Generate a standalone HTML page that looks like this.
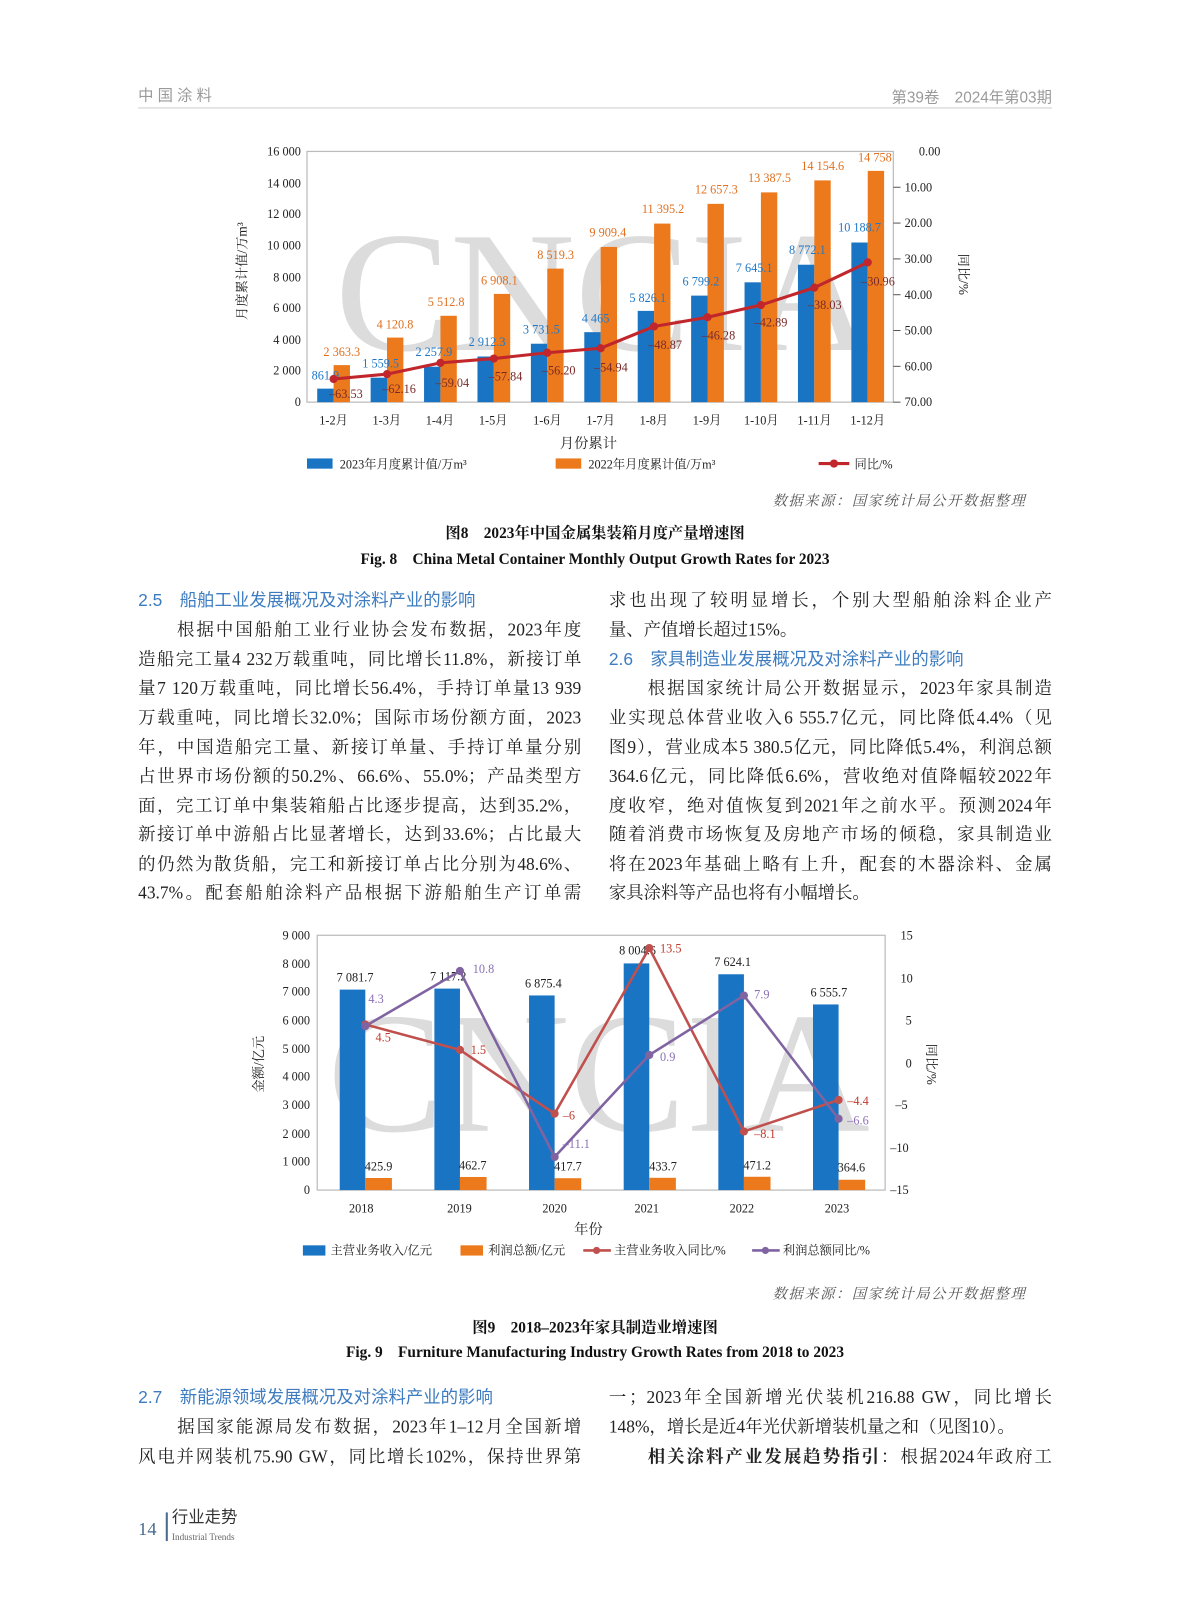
<!DOCTYPE html>
<html><head><meta charset="utf-8">
<style>
html,body{margin:0;padding:0;background:#fff;width:1187px;height:1600px;overflow:hidden}
#w{position:absolute;left:0;top:0;width:1160px;height:1564px;transform:scale(1.02328);transform-origin:0 0}
.t{position:absolute;font-family:"Liberation Serif","Noto Serif CJK SC",serif;font-size:17px;line-height:28px;color:#222;white-space:nowrap}
.j{width:433px;text-align:justify;text-align-last:justify;white-space:normal;height:28px;overflow:hidden}
.h{font-family:"Liberation Sans","Noto Sans CJK SC",sans-serif;color:#3d7cc0;font-size:17px}
.cap{position:absolute;left:135px;width:893px;text-align:center;font-family:"Liberation Serif","Noto Serif CJK SC",serif;font-weight:bold;font-size:15px;color:#111}
.src{position:absolute;right:157px;font-family:"Liberation Serif","Noto Serif CJK SC",serif;font-size:14px;color:#555;letter-spacing:1.5px;font-style:italic}
svg{position:absolute;left:0;top:0}
svg text{font-family:"Liberation Serif","Noto Serif CJK SC",serif}
</style></head><body><div id="w">
<div class="t" style="left:135px;top:80px;font-size:15px;color:#9a9a9a;letter-spacing:4px;font-family:'Liberation Sans','Noto Sans CJK SC',sans-serif">中国涂料</div>
<div class="t" style="right:132px;top:82px;font-size:15px;color:#9a9a9a;font-family:'Liberation Sans','Noto Sans CJK SC',sans-serif">第39卷　2024年第03期</div>
<div style="position:absolute;left:135px;top:105px;width:893px;height:1px;background:#ccc"></div>

<svg width="1160" height="1564" viewBox="0 0 1160 1564">
<!-- Chart 1 -->
<text x="590" y="342" font-size="168" fill="#dcdcdc" text-anchor="middle" textLength="525" lengthAdjust="spacingAndGlyphs">CNCIA</text>
<rect x="300" y="148" width="573" height="245" fill="none" stroke="#bbb" stroke-width="1.2"/>
<g font-size="12" fill="#222" text-anchor="end">
<text x="294" y="152">16 000</text><text x="294" y="183">14 000</text><text x="294" y="213">12 000</text><text x="294" y="244">10 000</text><text x="294" y="275">8 000</text><text x="294" y="305">6 000</text><text x="294" y="336">4 000</text><text x="294" y="366">2 000</text><text x="294" y="397">0</text>
</g>
<g stroke="#555" stroke-width="1"><line x1="873" y1="183" x2="880" y2="183"/><line x1="873" y1="218" x2="880" y2="218"/><line x1="873" y1="253" x2="880" y2="253"/><line x1="873" y1="288" x2="880" y2="288"/><line x1="873" y1="323" x2="880" y2="323"/><line x1="873" y1="358" x2="880" y2="358"/><line x1="873" y1="393" x2="880" y2="393"/></g>
<g font-size="12" fill="#222"><text x="898" y="152">0.00</text><text x="884" y="187">10.00</text><text x="884" y="222">20.00</text><text x="884" y="257">30.00</text><text x="884" y="292">40.00</text><text x="884" y="327">50.00</text><text x="884" y="362">60.00</text><text x="884" y="397">70.00</text></g>
<g fill="#1a74c4">
<rect x="310" y="379.8" width="16" height="13.2"/><rect x="362.2" y="369.1" width="16" height="23.9"/><rect x="414.4" y="358.4" width="16" height="34.6"/><rect x="466.6" y="348.4" width="16" height="44.6"/><rect x="518.8" y="335.9" width="16" height="57.1"/><rect x="571" y="324.6" width="16" height="68.4"/><rect x="623.2" y="303.8" width="16" height="89.2"/><rect x="675.4" y="288.9" width="16" height="104.1"/><rect x="727.6" y="275.9" width="16" height="117.1"/><rect x="779.8" y="258.7" width="16" height="134.3"/><rect x="832" y="237" width="16" height="156"/>
</g>
<g fill="#ec7a1c">
<rect x="326" y="356.8" width="16" height="36.2"/><rect x="378.2" y="329.9" width="16" height="63.1"/><rect x="430.4" y="308.6" width="16" height="84.4"/><rect x="482.6" y="287.2" width="16" height="105.8"/><rect x="534.8" y="262.5" width="16" height="130.5"/><rect x="587" y="241.3" width="16" height="151.7"/><rect x="639.2" y="218.5" width="16" height="174.5"/><rect x="691.4" y="199.2" width="16" height="193.8"/><rect x="743.6" y="188" width="16" height="205"/><rect x="795.8" y="176.3" width="16" height="216.7"/><rect x="848" y="167" width="16" height="226"/>
</g>
<g font-size="12" fill="#1f78c8" text-anchor="middle">
<text x="318" y="371">861.9</text><text x="372" y="359">1 559.5</text><text x="424" y="348">2 257.9</text><text x="476" y="338">2 912.3</text><text x="529" y="326">3 731.5</text><text x="582" y="315">4 465</text><text x="633" y="295">5 826.1</text><text x="685" y="279">6 799.2</text><text x="737" y="266">7 645.1</text><text x="789" y="248">8 772.1</text><text x="840" y="226">10 188.7</text>
</g>
<g font-size="12" fill="#e07020" text-anchor="middle">
<text x="334" y="348">2 363.3</text><text x="386" y="321">4 120.8</text><text x="436" y="299">5 512.8</text><text x="488" y="278">6 908.1</text><text x="543" y="253">8 519.3</text><text x="594" y="231">9 909.4</text><text x="648" y="208">11 395.2</text><text x="700" y="189">12 657.3</text><text x="752" y="178">13 387.5</text><text x="804" y="166">14 154.6</text><text x="855" y="158">14 758</text>
</g>
<polyline fill="none" stroke="#c0262b" stroke-width="3" points="326,370.4 378.2,365.6 430.4,354.6 482.6,350.4 534.8,344.7 587,340.3 639.2,319 691.4,310 743.6,298.1 795.8,281.1 848,256.4"/>
<g fill="#c0262b"><circle cx="326" cy="370.4" r="4"/><circle cx="378.2" cy="365.6" r="4"/><circle cx="430.4" cy="354.6" r="4"/><circle cx="482.6" cy="350.4" r="4"/><circle cx="534.8" cy="344.7" r="4"/><circle cx="587" cy="340.3" r="4"/><circle cx="639.2" cy="319" r="4"/><circle cx="691.4" cy="310" r="4"/><circle cx="743.6" cy="298.1" r="4"/><circle cx="795.8" cy="281.1" r="4"/><circle cx="848" cy="256.4" r="4"/></g>
<g font-size="12" fill="#7a2a28" text-anchor="middle">
<text x="338" y="389">–63.53</text><text x="390" y="384">–62.16</text><text x="442" y="378">–59.04</text><text x="494" y="372">–57.84</text><text x="546" y="366">–56.20</text><text x="597" y="363">–54.94</text><text x="650" y="341">–48.87</text><text x="702" y="332">–46.28</text><text x="753" y="319">–42.89</text><text x="806" y="302">–38.03</text><text x="858" y="279">–30.96</text>
</g>
<g font-size="12" fill="#222" text-anchor="middle">
<text x="326" y="415">1-2月</text><text x="378" y="415">1-3月</text><text x="430" y="415">1-4月</text><text x="482" y="415">1-5月</text><text x="535" y="415">1-6月</text><text x="587" y="415">1-7月</text><text x="639" y="415">1-8月</text><text x="691" y="415">1-9月</text><text x="744" y="415">1-10月</text><text x="796" y="415">1-11月</text><text x="848" y="415">1-12月</text>
</g>
<text x="575" y="438" font-size="14" text-anchor="middle" fill="#222">月份累计</text>
<text transform="translate(241,265) rotate(-90)" font-size="13" text-anchor="middle" fill="#222">月度累计值/万m³</text>
<text transform="translate(937,268) rotate(90)" font-size="13" text-anchor="middle" fill="#222">同比/%</text>
<rect x="300" y="448" width="25" height="10" fill="#1a74c4"/><text x="332" y="458" font-size="12" fill="#222">2023年月度累计值/万m³</text>
<rect x="543" y="448" width="25" height="10" fill="#ec7a1c"/><text x="575" y="458" font-size="12" fill="#222">2022年月度累计值/万m³</text>
<line x1="800" y1="453" x2="830" y2="453" stroke="#c0262b" stroke-width="3"/><circle cx="815" cy="453" r="4" fill="#c0262b"/><text x="835" y="458" font-size="12" fill="#222">同比/%</text>

<!-- Chart 2 -->
<text x="585" y="1105" font-size="168" fill="#dcdcdc" text-anchor="middle" textLength="530" lengthAdjust="spacingAndGlyphs">CNCIA</text>
<rect x="310" y="914" width="555" height="249" fill="none" stroke="#bbb" stroke-width="1.2"/>
<g font-size="12" fill="#222" text-anchor="end">
<text x="303" y="918">9 000</text><text x="303" y="946">8 000</text><text x="303" y="973">7 000</text><text x="303" y="1001">6 000</text><text x="303" y="1029">5 000</text><text x="303" y="1056">4 000</text><text x="303" y="1084">3 000</text><text x="303" y="1112">2 000</text><text x="303" y="1139">1 000</text><text x="303" y="1167">0</text>
</g>
<g font-size="12" fill="#222"><text x="880" y="918">15</text><text x="880" y="960">10</text><text x="885" y="1001">5</text><text x="885" y="1043">0</text><text x="875" y="1084">–5</text><text x="870" y="1126">–10</text><text x="870" y="1167">–15</text></g>
<g fill="#1a74c4">
<rect x="332" y="967.1" width="25" height="195.9"/><rect x="424.5" y="966.1" width="25" height="196.9"/><rect x="517" y="972.8" width="25" height="190.2"/><rect x="609.5" y="941.5" width="25" height="221.5"/><rect x="702" y="952.1" width="25" height="210.9"/><rect x="794.5" y="981.6" width="25" height="181.4"/>
</g>
<g fill="#ec7a1c">
<rect x="357" y="1151.2" width="26" height="11.8"/><rect x="449.5" y="1150.2" width="26" height="12.8"/><rect x="542" y="1151.4" width="26" height="11.6"/><rect x="634.5" y="1151" width="26" height="12"/><rect x="727" y="1150" width="26" height="13"/><rect x="819.5" y="1152.9" width="26" height="10.1"/>
</g>
<g font-size="12" fill="#222" text-anchor="middle">
<text x="347" y="959">7 081.7</text><text x="438" y="958">7 117.2</text><text x="531" y="965">6 875.4</text><text x="623" y="933">8 004.6</text><text x="716" y="944">7 624.1</text><text x="810" y="974">6 555.7</text>
<text x="370" y="1144">425.9</text><text x="462" y="1143">462.7</text><text x="555" y="1144">417.7</text><text x="648" y="1144">433.7</text><text x="740" y="1143">471.2</text><text x="832" y="1145">364.6</text>
</g>
<polyline fill="none" stroke="#c0504d" stroke-width="2.5" points="357,1001.2 449.5,1026 542,1088.3 634.5,926.5 727,1105.7 819.5,1075"/>
<polyline fill="none" stroke="#8064a2" stroke-width="2.5" points="357,1002.8 449.5,948.9 542,1130.6 634.5,1031 727,972.9 819.5,1093.3"/>
<g fill="#c0504d"><circle cx="357" cy="1001.2" r="4"/><circle cx="449.5" cy="1026" r="4"/><circle cx="542" cy="1088.3" r="4"/><circle cx="634.5" cy="926.5" r="4"/><circle cx="727" cy="1105.7" r="4"/><circle cx="819.5" cy="1075" r="4"/></g>
<g fill="#8064a2"><circle cx="357" cy="1002.8" r="4"/><circle cx="449.5" cy="948.9" r="4"/><circle cx="542" cy="1130.6" r="4"/><circle cx="634.5" cy="1031" r="4"/><circle cx="727" cy="972.9" r="4"/><circle cx="819.5" cy="1093.3" r="4"/></g>
<g font-size="12" fill="#c0392b">
<text x="367" y="1018">4.5</text><text x="460" y="1030">1.5</text><text x="550" y="1094">–6</text><text x="645" y="931">13.5</text><text x="737" y="1112">–8.1</text><text x="828" y="1080">–4.4</text>
</g>
<g font-size="12" fill="#8a6fb5">
<text x="360" y="980">4.3</text><text x="462" y="951">10.8</text><text x="550" y="1122">–11.1</text><text x="645" y="1037">0.9</text><text x="737" y="976">7.9</text><text x="828" y="1099">–6.6</text>
</g>
<g font-size="12" fill="#222" text-anchor="middle">
<text x="353" y="1185">2018</text><text x="449" y="1185">2019</text><text x="542" y="1185">2020</text><text x="632" y="1185">2021</text><text x="725" y="1185">2022</text><text x="818" y="1185">2023</text>
</g>
<text x="575" y="1206" font-size="14" text-anchor="middle" fill="#222">年份</text>
<text transform="translate(257,1040) rotate(-90)" font-size="13" text-anchor="middle" fill="#222">金额/亿元</text>
<text transform="translate(906,1040) rotate(90)" font-size="13" text-anchor="middle" fill="#222">同比/%</text>
<rect x="296" y="1217" width="22" height="10" fill="#1a74c4"/><text x="323" y="1226" font-size="12" fill="#222">主营业务收入/亿元</text>
<rect x="450" y="1217" width="22" height="10" fill="#ec7a1c"/><text x="477" y="1226" font-size="12" fill="#222">利润总额/亿元</text>
<line x1="570" y1="1222" x2="597" y2="1222" stroke="#c0504d" stroke-width="2.5"/><circle cx="583" cy="1222" r="3.5" fill="#c0504d"/><text x="600" y="1226" font-size="12" fill="#222">主营业务收入同比/%</text>
<line x1="735" y1="1222" x2="762" y2="1222" stroke="#8064a2" stroke-width="2.5"/><circle cx="748" cy="1222" r="3.5" fill="#8064a2"/><text x="765" y="1226" font-size="12" fill="#222">利润总额同比/%</text>
</svg>

<div class="src" style="top:479px">数据来源：国家统计局公开数据整理</div>
<div class="cap" style="top:510px">图8　2023年中国金属集装箱月度产量增速图</div>
<div class="cap" style="top:535px">Fig. 8　China Metal Container Monthly Output Growth Rates for 2023</div>

<div class="t h" style="left:135px;top:573px">2.5　船舶工业发展概况及对涂料产业的影响</div>
<div class="t j" style="left:135px;top:602px">　　根据中国船舶工业行业协会发布数据，2023年度</div>
<div class="t j" style="left:135px;top:631px">造船完工量4 232万载重吨，同比增长11.8%，新接订单</div>
<div class="t j" style="left:135px;top:659px">量7 120万载重吨，同比增长56.4%，手持订单量13 939</div>
<div class="t j" style="left:135px;top:688px">万载重吨，同比增长32.0%；国际市场份额方面，2023</div>
<div class="t j" style="left:135px;top:717px">年，中国造船完工量、新接订单量、手持订单量分别</div>
<div class="t j" style="left:135px;top:745px">占世界市场份额的50.2%、66.6%、55.0%；产品类型方</div>
<div class="t j" style="left:135px;top:774px">面，完工订单中集装箱船占比逐步提高，达到35.2%，</div>
<div class="t j" style="left:135px;top:802px">新接订单中游船占比显著增长，达到33.6%；占比最大</div>
<div class="t j" style="left:135px;top:831px">的仍然为散货船，完工和新接订单占比分别为48.6%、</div>
<div class="t j" style="left:135px;top:859px">43.7%。配套船舶涂料产品根据下游船舶生产订单需</div>

<div class="t j" style="left:595px;top:573px">求也出现了较明显增长，个别大型船舶涂料企业产</div>
<div class="t" style="left:595px;top:602px">量、产值增长超过15%。</div>
<div class="t h" style="left:595px;top:631px">2.6　家具制造业发展概况及对涂料产业的影响</div>
<div class="t j" style="left:595px;top:659px">　　根据国家统计局公开数据显示，2023年家具制造</div>
<div class="t j" style="left:595px;top:688px">业实现总体营业收入6 555.7亿元，同比降低4.4%（见</div>
<div class="t j" style="left:595px;top:717px">图9），营业成本5 380.5亿元，同比降低5.4%，利润总额</div>
<div class="t j" style="left:595px;top:745px">364.6亿元，同比降低6.6%，营收绝对值降幅较2022年</div>
<div class="t j" style="left:595px;top:774px">度收窄，绝对值恢复到2021年之前水平。预测2024年</div>
<div class="t j" style="left:595px;top:802px">随着消费市场恢复及房地产市场的倾稳，家具制造业</div>
<div class="t j" style="left:595px;top:831px">将在2023年基础上略有上升，配套的木器涂料、金属</div>
<div class="t" style="left:595px;top:859px">家具涂料等产品也将有小幅增长。</div>

<div class="src" style="top:1254px">数据来源：国家统计局公开数据整理</div>
<div class="cap" style="top:1286px">图9　2018–2023年家具制造业增速图</div>
<div class="cap" style="top:1310px">Fig. 9　Furniture Manufacturing Industry Growth Rates from 2018 to 2023</div>

<div class="t h" style="left:135px;top:1352px">2.7　新能源领域发展概况及对涂料产业的影响</div>
<div class="t j" style="left:135px;top:1381px">　　据国家能源局发布数据，2023年1–12月全国新增</div>
<div class="t j" style="left:135px;top:1410px">风电并网装机75.90 GW，同比增长102%，保持世界第</div>
<div class="t j" style="left:595px;top:1352px">一；2023年全国新增光伏装机216.88 GW，同比增长</div>
<div class="t" style="left:595px;top:1381px">148%，增长是近4年光伏新增装机量之和（见图10）。</div>
<div class="t j" style="left:595px;top:1410px">　　<b>相关涂料产业发展趋势指引</b>：根据2024年政府工</div>

<div class="t" style="left:135px;top:1480px;font-size:18px;color:#4a6a90">14</div>
<div style="position:absolute;left:162px;top:1478px;width:2px;height:28px;background:#4a6a90"></div>
<div class="t" style="left:168px;top:1474px;font-size:16px;line-height:20px;color:#333;font-family:'Liberation Sans','Noto Sans CJK SC',sans-serif">行业走势</div>
<div class="t" style="left:168px;top:1496px;font-size:9px;line-height:12px;color:#666">Industrial Trends</div>
</div></body></html>
